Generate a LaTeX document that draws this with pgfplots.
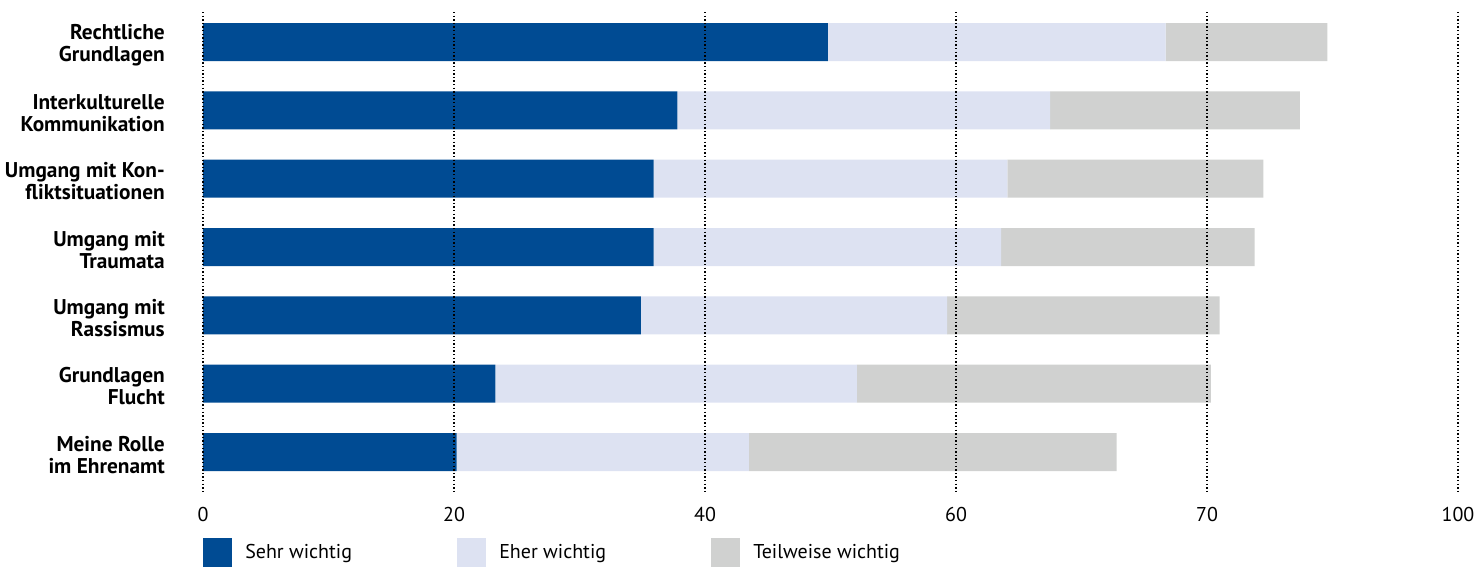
\documentclass[border=0pt]{standalone}
\usepackage{fontspec}
\setmainfont{PT Sans}
\usepackage{pgfplots}
\pgfplotsset{compat=1.18}
\definecolor{dblue}{RGB}{0,75,147}
\definecolor{lblue}{RGB}{221,226,242}
\definecolor{lgray}{RGB}{208,209,208}
\begin{document}
\begin{tikzpicture}
\begin{axis}[
  at={(0,0)}, anchor=south west,
  scale only axis, width=941.25pt, height=360pt,
  xbar stacked, bar width=28.5pt,
  xmin=0, xmax=100, ymin=-0.44, ymax=6.585, y dir=reverse,
  axis line style={draw=none}, major tick length=0pt,
  xmajorgrids, ymajorgrids=false,
  grid style={black, line width=1.1pt, dash pattern=on 1.1pt off 1.6pt},
  axis on top,
  xtick={0,20,40,60,80,100},
  xticklabels={0,20,40,60,70,100},
  xticklabel style={inner sep=0pt, anchor=north, yshift=-11pt, font=\fontsize{15}{17}\selectfont},
  /pgf/number format/assume math mode=true,
  ytick={0,1,2,3,4,5,6},
  yticklabels={{Rechtliche\\Grundlagen},{Interkulturelle\\Kommunikation},{Umgang mit Kon-\\fliktsituationen},{Umgang mit\\Traumata},{Umgang mit\\Rassismus},{Grundlagen\\Flucht},{Meine Rolle\\im Ehrenamt}},
  yticklabel style={inner sep=0pt, anchor=east, xshift=-28.5pt, yshift=-2pt, align=right, font=\bfseries\fontsize{16}{16.5}\selectfont},
  legend columns=3,
  legend style={at={(0,0)}, anchor=north west, yshift=-34.5pt, draw=none, fill=none, inner sep=0pt, column sep=0pt, nodes={inner sep=0pt}, font=\fontsize{15}{17}\selectfont, cells={anchor=west}},
  legend image code/.code={\fill[#1,draw=none] (0pt,-10.875pt) rectangle (21.75pt,10.875pt);},
]
\addplot[fill=dblue, draw=none] coordinates {(49.8,0) (37.8,1) (35.9,2) (35.9,3) (34.9,4) (23.3,5) (20.2,6)};
\addplot[fill=lblue, draw=none] coordinates {(26.9,0) (29.7,1) (28.2,2) (27.7,3) (24.4,4) (28.8,5) (23.3,6)};
\addplot[fill=lgray, draw=none] coordinates {(12.9,0) (19.9,1) (20.4,2) (20.2,3) (21.7,4) (28.2,5) (29.3,6)};
\addlegendentry{\hspace{9.75pt}\makebox[159pt][l]{Sehr wichtig}}
\addlegendentry{\hspace{9.75pt}\makebox[159pt][l]{Eher wichtig}}
\addlegendentry{\hspace{9.75pt}\makebox[159pt][l]{Teilweise wichtig}}
\end{axis}
\pgfresetboundingbox
\useasboundingbox (-152.25pt,-56.25pt) rectangle (960pt,369pt);
\end{tikzpicture}
\end{document}
